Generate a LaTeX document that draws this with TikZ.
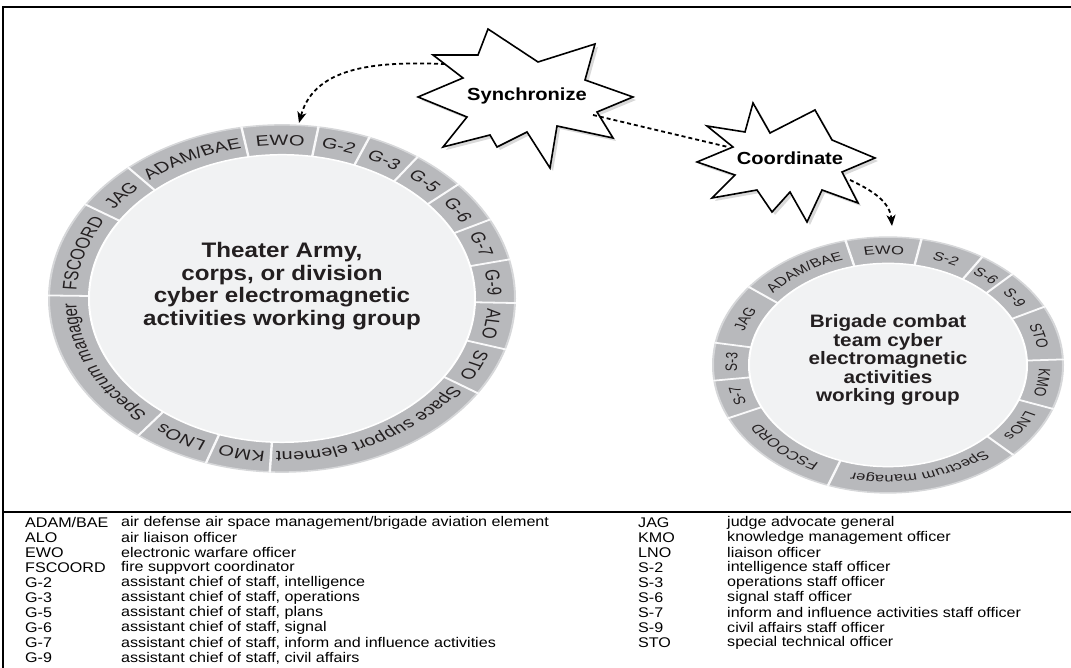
\documentclass[tikz,border=0pt]{standalone}
\usepackage{fontspec}
\setmainfont{Liberation Sans}[FakeStretch=1.15]
\newfontfamily\ringfamily{Liberation Sans}
\usetikzlibrary{arrows.meta,shadows,decorations.text}

\definecolor{ringgray}{HTML}{B8B9BC}
\definecolor{ringrim}{HTML}{D6D7D9}
\definecolor{innergray}{HTML}{F1F2F3}
\definecolor{inkgray}{HTML}{231F20}

\newcommand\armyringfont{\ringfamily\fontsize{20}{20}\selectfont\color{inkgray}}
\newcommand\bctringfont{\ringfamily\fontsize{16.5}{16.5}\selectfont\color{inkgray}}

\tikzset{
  ringtext/.style={decorate, decoration={text along path, text align=center}},
  sepline/.style={white!92!ringgray, line width=2.4pt},
  groupname/.style={text=inkgray, align=center, inner sep=0pt},
  burst/.style={draw=black, fill=white, line width=1.6pt, line join=miter,
    drop shadow={opacity=0.3, shadow xshift=3pt, shadow yshift=-3pt}},
  bursttext/.style={font=\bfseries\fontsize{17.5}{17.5}\selectfont, inner sep=0pt},
  dashlink/.style={line width=1.8pt, dash pattern=on 4pt off 3pt},
  dasharrow/.style={dashlink, -{Stealth[length=11pt,width=9pt,inset=3pt]}},
  legend/.style={font=\fontsize{14}{15}\selectfont, anchor=west, inner sep=0pt}
}

\begin{document}
\begin{tikzpicture}[x=1pt,y=1pt]
  \useasboundingbox (0,0) rectangle (1071,668);

  % frame and legend rule
  \draw[line width=2pt] (3,0) -- (3,661) -- (1071,661);
  \draw[line width=1.5pt] (3,156) -- (1071,156);

  % theater army working group (ring drawn as a circle, squashed)
  \begin{scope}[transform canvas={shift={(282,369.5)}, yscale=0.745}]
    \fill[ringgray, draw=ringrim, line width=2pt] (0,0) circle [radius=233];
    \foreach \t in {100,81,68,54.5,41,27,13,-1.5,-17,-33,-93,-109,-128,-181,-212.7,-228.8}
      \draw[sepline] (\t:191) -- (\t:234);
    \fill[innergray, draw=white, line width=2pt] (0,0) circle [radius=193];
    \foreach \ts/\te/\lab in {100/81/EWO, 81/68/G-2, 68/54.5/G-3, 54.5/41/G-5, 41/27/G-6,
        27/13/G-7, 13/-1.5/G-9, -1.5/-17/ALO, -17/-33/STO, -33/-93/Space support element,
        -93/-109/KMO, -109/-128/LNOs, -128/-181/Spectrum manager, -181/-212.7/FSCOORD,
        -212.7/-228.8/JAG, -228.8/-260/{ADAM/BAE}}
      \path[ringtext, decoration={text/.expanded={|\noexpand\armyringfont|\lab}}]
        (\ts:205.8) arc[start angle=\ts, end angle=\te, radius=205.8];
  \end{scope}
  \node[groupname, font=\bfseries\fontsize{21}{22.7}\selectfont] (armywg) at (282,382)
    {Theater Army,\\corps, or division\\cyber electromagnetic\\activities working group};

  % brigade combat team working group
  \begin{scope}[transform canvas={shift={(888,303)}, yscale=0.731}]
    \fill[ringgray, draw=ringrim, line width=2pt] (0,0) circle [radius=175];
    \foreach \t in {104,79,57.5,45,27,2.5,-20,-44.5,-110,-155.5,-173,-190,-217.5}
      \draw[sepline] (\t:137) -- (\t:176);
    \fill[innergray, draw=white, line width=2pt] (0,0) circle [radius=139];
    \foreach \ts/\te/\lab in {104/79/EWO, 79/57.5/S-2, 57.5/45/S-6, 45/27/S-9, 27/2.5/STO,
        2.5/-20/KMO, -20/-44.5/LNOs, -44.5/-110/Spectrum manager, -110/-155.5/FSCOORD,
        -155.5/-173/S-7, -173/-190/S-3, -190/-217.5/JAG, -217.5/-256/{ADAM/BAE}}
      \path[ringtext, decoration={text/.expanded={|\noexpand\bctringfont|\lab}}]
        (\ts:151) arc[start angle=\ts, end angle=\te, radius=151];
  \end{scope}
  \node[groupname, font=\bfseries\fontsize{18}{18.5}\selectfont] (bctwg) at (888,308)
    {Brigade combat\\team cyber\\electromagnetic\\activities\\working group};

  % bursts
  \draw[burst] (488,639) -- (538,606) -- (595,624) -- (585,588) -- (633,571) -- (597,556)
    -- (613,530) -- (557,542) -- (550,500) -- (527,536) -- (497,521) -- (490,533)
    -- (443,521) -- (467,551) -- (418,571) -- (463,590) -- (433,613) -- (478,613) -- cycle;
  \node[bursttext] (sync) at (527,572) {Synchronize};

  \draw[burst] (753,565) -- (770,535) -- (815,558) -- (832,528) -- (875,510) -- (842,496)
    -- (858,465) -- (822,478) -- (807,446) -- (790,476) -- (772,456) -- (757,478)
    -- (712,470) -- (735,493) -- (697,506) -- (733,521) -- (707,542) -- (745,536) -- cycle;
  \node[bursttext] (coord) at (790,510) {Coordinate};

  % connectors
  \coordinate (syncout) at (445,604);
  \coordinate (syncright) at (593,553);
  \coordinate (coordleft) at (728,521);
  \coordinate (coordout) at (850,488);
  \coordinate (armytop) at (299,545);
  \coordinate (bcttop) at (892,442);
  \draw[dasharrow] (syncout) to[out=178, in=75] (armytop);
  \draw[dashlink] (syncright) -- (coordleft);
  \draw[dasharrow] (coordout) to[out=-25, in=95] (bcttop);

  % legend
  \foreach \abbr/\full [count=\i from 0] in {{ADAM/BAE}/{air defense air space management/brigade aviation element},
      ALO/air liaison officer, EWO/electronic warfare officer, FSCOORD/fire suppvort coordinator,
      G-2/{assistant chief of staff, intelligence}, G-3/{assistant chief of staff, operations},
      G-5/{assistant chief of staff, plans}, G-6/{assistant chief of staff, signal},
      G-7/{assistant chief of staff, inform and influence activities},
      G-9/{assistant chief of staff, civil affairs}} {
    \node[legend] (abbl\i) at (25,145-15*\i) {\abbr};
    \node[legend] (defl\i) at (121,145-15*\i) {\full};
  }
  \foreach \abbr/\full [count=\i from 0] in {JAG/judge advocate general,
      KMO/knowledge management officer, LNO/liaison officer, S-2/intelligence staff officer,
      S-3/operations staff officer, S-6/signal staff officer,
      S-7/inform and influence activities staff officer, S-9/civil affairs staff officer,
      STO/special technical officer} {
    \node[legend] (abbr\i) at (638,145-15*\i) {\abbr};
    \node[legend] (defr\i) at (727,145-15*\i) {\full};
  }
\end{tikzpicture}
\end{document}
